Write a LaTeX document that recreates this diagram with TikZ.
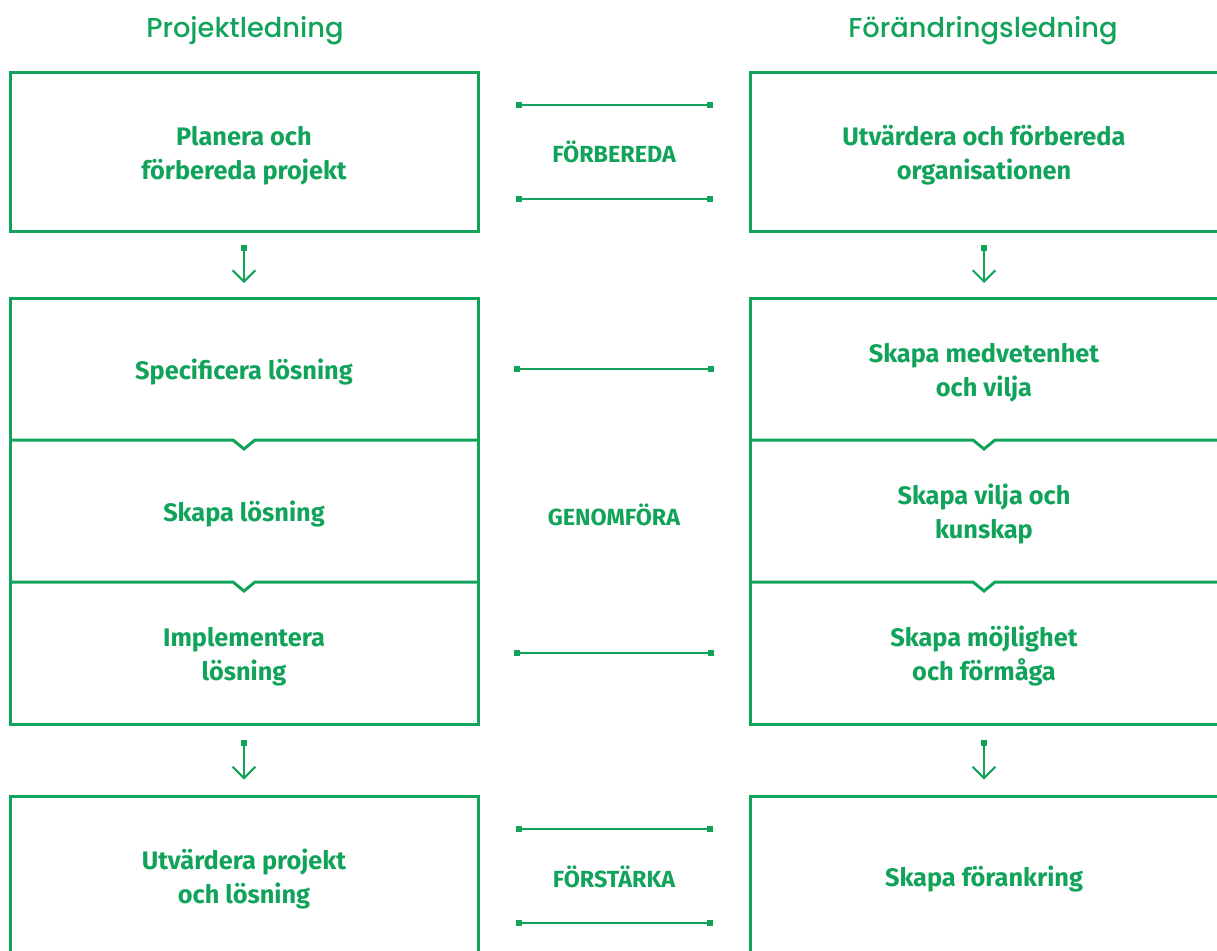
\documentclass[tikz,border=0pt]{standalone}
\usepackage{fontspec}
\setmainfont{Fira Sans}
\newfontfamily\headfont{Poppins Medium}
\usetikzlibrary{arrows.meta,calc}
\definecolor{mossgreen}{RGB}{18,163,90}
% box text, set a little below the middle
\newcommand{\boxlines}[1]{\raisebox{-3pt}[\height][\depth]{\begin{tabular}{@{}c@{}}#1\end{tabular}}}

\begin{document}
\begin{tikzpicture}[
            x=0.75pt, y=-0.75pt,
            heading/.style={anchor=base, text=mossgreen, font=\headfont\fontsize{20.5}{26}\selectfont},
            box/.style={draw=mossgreen, line width=2.25pt, minimum width=351pt, minimum height=119.25pt,
                inner sep=0pt, text=mossgreen, font=\bfseries\fontsize{19}{25.5}\selectfont},
            stackbox/.style={box, draw=none, outer sep=0pt, minimum height=106.5pt},
            frame/.style={draw=mossgreen, line width=2.25pt},
            phase/.style={text=mossgreen, font=\bfseries\fontsize{17.5}{20}\selectfont},
            link/.style={draw=mossgreen, line width=1.5pt, shorten <=27pt, shorten >=27pt,
                {Square[length=4.5pt,width=4.5pt]}-{Square[length=4.5pt,width=4.5pt]}},
            down/.style={draw=mossgreen, line width=1.5pt,
                {Square[length=4.5pt,width=4.5pt]}-{Straight Barb[length=8.5pt,width=17pt]}},
        ]
            \useasboundingbox (0, 0) rectangle (1217, 950);
            % headings
            \node[heading] (projhead) at (245, 37) {Projektledning};
            \node[heading] (changehead) at (983, 37) {Förändringsledning};
            % left column
            \node[box] (plan) at (244, 151.5) {\boxlines{Planera och\\förbereda projekt}};
            \node[stackbox] (spec) at (244, 369) {\boxlines{Specificera lösning}};
            \node[stackbox] (build) at (244, 511) {\boxlines{Skapa lösning}};
            \node[stackbox] (impl) at (244, 653) {\boxlines{Implementera\\lösning}};
            \node[box] (review) at (244, 875.5) {\boxlines{Utvärdera projekt\\och lösning}};
            % right column
            \node[box] (assess) at (984, 151.5) {\boxlines{Utvärdera och förbereda\\organisationen}};
            \node[stackbox] (aware) at (984, 369) {\boxlines{Skapa medvetenhet\\och vilja}};
            \node[stackbox] (skill) at (984, 511) {\boxlines{Skapa vilja och\\kunskap}};
            \node[stackbox] (ability) at (984, 653) {\boxlines{Skapa möjlighet\\och förmåga}};
            \node[box] (embed) at (984, 875.5) {\boxlines{Skapa förankring}};
            % frames of the stacked boxes
            \draw[frame] (spec.north west) rectangle (impl.south east);
            \draw[frame] (aware.north west) rectangle (ability.south east);
            \foreach \upper in {spec, build, aware, skill} {
                \draw[frame] (\upper.south west) -- ($(\upper.south)+(-11, 0)$) -- ($(\upper.south)+(0, 9)$)
                    -- ($(\upper.south)+(11, 0)$) -- (\upper.south east);
            }
            % phases
            \node[phase] (prepare) at (614, 152) {FÖRBEREDA};
            \node[phase] (execute) at (614, 515) {GENOMFÖRA};
            \node[phase] (reinforce) at (614, 877) {FÖRSTÄRKA};
            \draw[link] ([yshift=35.25pt]plan.east) -- ([yshift=35.25pt]assess.west);
            \draw[link] ([yshift=-35.25pt]plan.east) -- ([yshift=-35.25pt]assess.west);
            \draw[link] (spec.east) -- (aware.west);
            \draw[link] (impl.east) -- (ability.west);
            \draw[link] ([yshift=35.25pt]review.east) -- ([yshift=35.25pt]embed.west);
            \draw[link] ([yshift=-35.25pt]review.east) -- ([yshift=-35.25pt]embed.west);
            % flow downwards
            \draw[down, shorten <=9pt, shorten >=11.25pt] (plan) -- (spec);
            \draw[down, shorten <=9pt, shorten >=11.25pt] (assess) -- (aware);
            \draw[down, shorten <=12pt, shorten >=11.25pt] (impl) -- (review);
            \draw[down, shorten <=12pt, shorten >=11.25pt] (ability) -- (embed);
        \end{tikzpicture}
\end{document}
